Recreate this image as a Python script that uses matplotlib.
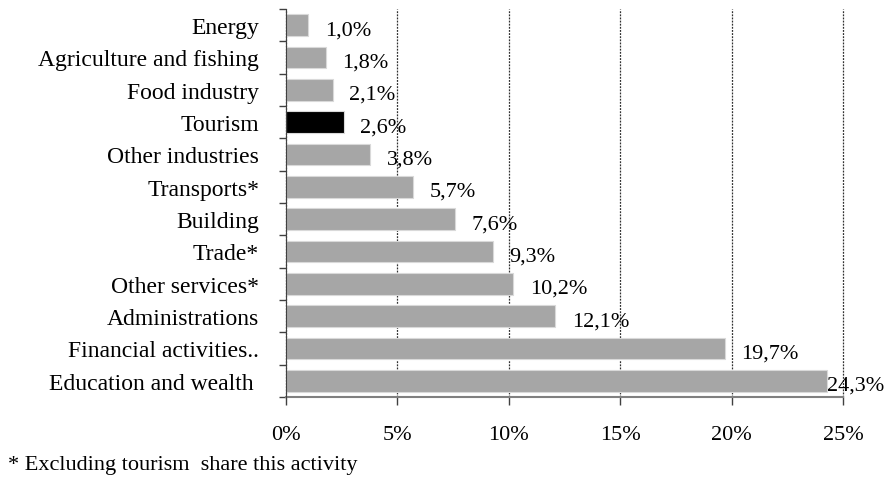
import matplotlib
matplotlib.use("Agg")
import matplotlib.pyplot as plt
from matplotlib.ticker import FixedLocator

categories = ["Energy", "Agriculture and fishing", "Food industry", "Tourism",
              "Other industries", "Transports*", "Building", "Trade*",
              "Other services*", "Administrations", "Financial activities..",
              "Education and wealth "]
values = [1.0, 1.8, 2.1, 2.6, 3.8, 5.7, 7.6, 9.3, 10.2, 12.1, 19.7, 24.3]
highlight = "Tourism"
xticks = [0, 5, 10, 15, 20, 25]
xticklabels = ["0%", "5%", "10%", "15%", "20%", "25%"]
footnote = "* Excluding tourism  share this activity"

plt.rcParams['font.family'] = ['Liberation Serif', 'DejaVu Serif']
FS = 16
FS_CAT = 17

fig = plt.figure(figsize=(8.89, 4.85), dpi=100)
W, H = 889, 485
ax = fig.add_axes([285.7 / W, 1 - 398 / H, (843 - 285.7) / W, (398 - 10) / H])

n = len(categories)
ypos = list(range(n))
colors = ["black" if c == highlight else "#a6a6a6" for c in categories]
ax.barh(ypos, values, height=0.66, color=colors, edgecolor="#d9d9d9",
        linewidth=0.8, zorder=3)
ax.set_ylim(n - 0.5, -0.5)
ax.set_xlim(0, 25)

vmax = max(values)
for y, v in zip(ypos, values):
    dx = 0 if v == vmax else 12  # largest label is pushed against its bar end
    ax.annotate(f"{v:.1f}%".replace(".", ","), xy=(v, y), xytext=(dx, -6.5),
                textcoords="offset points", ha="left", va="baseline",
                fontsize=FS, zorder=4)

ax.set_yticks(ypos)
ax.set_yticklabels(categories, fontsize=FS_CAT)
ax.yaxis.set_minor_locator(FixedLocator([i - 0.5 for i in range(n + 1)]))
ax.tick_params(axis="y", which="major", length=0, pad=19)
ax.tick_params(axis="y", which="minor", length=5, width=1, color="#404040")

ax.set_xticks(xticks)
ax.set_xticklabels(xticklabels, fontsize=FS)
ax.tick_params(axis="x", which="major", length=6, width=1, color="#404040",
               pad=14)

ax.grid(axis="x", linestyle=(0, (1.5, 1.0)), color="#303030", linewidth=0.9,
        zorder=1)
for gl in ax.get_xgridlines():
    gl.set_clip_on(False)
for s in ["top", "right"]:
    ax.spines[s].set_visible(False)
ax.spines["left"].set_color("#404040")
ax.spines["bottom"].set_color("#808080")
ax.spines["bottom"].set_linewidth(1.5)
ax.spines["left"].set_zorder(5)

fig.text(8 / W, 1 - 470 / H, footnote, fontsize=FS, ha="left", va="baseline")

fig.savefig("out.png", dpi=100)
